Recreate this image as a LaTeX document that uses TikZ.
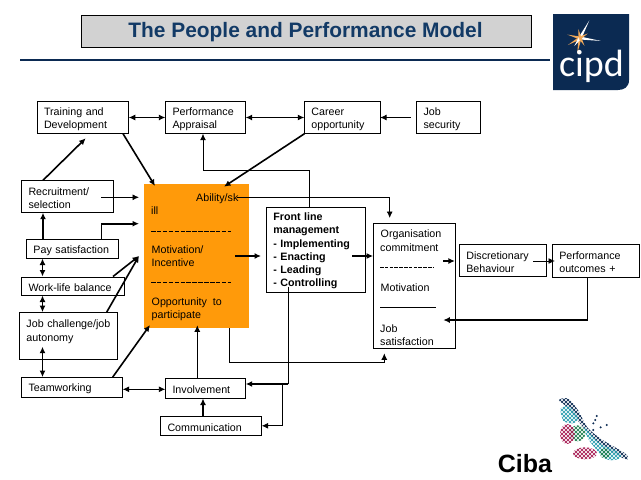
\documentclass[tikz,border=0pt]{standalone}
\usepackage{fontspec}
\setmainfont{Liberation Sans}
\newfontfamily\logofont{Carlito}
\usetikzlibrary{arrows.meta}
\definecolor{navy}{HTML}{0B2A52}
\definecolor{titleblue}{HTML}{123A66}
\definecolor{boxorange}{HTML}{FF9A0A}
\definecolor{titlegray}{HTML}{D2D2D2}
\definecolor{rayorange}{HTML}{F0A95A}
\definecolor{dotteal}{HTML}{2C9FB0}
\definecolor{dotgreen}{HTML}{1F8050}
\definecolor{dotred}{HTML}{A81E55}
\tikzset{
	box/.style={draw, align=left, inner xsep=7pt, inner ysep=0pt, font=\fontsize{10.7}{13.2}\selectfont, execute at begin node={\rule{0pt}{10.7pt}}},
	lab/.style={anchor=west, inner sep=0pt, yshift=-1pt, font=\fontsize{10.7}{13.2}\selectfont},
	thin line/.style={line width=0.9pt},
	thick line/.style={line width=1.6pt},
}
\newcommand{\dotgrid}[1]{%
	\foreach \i in {16,...,36} \foreach \j in {1,...,19} {
		\fill [#1] (\i*12,\j*12) circle (4.4);
		\fill [#1] (\i*12+6,\j*12+6) circle (4.4);
	}}
\begin{document}
\begin{tikzpicture}[x=1pt, y=-1pt, >={Latex[length=6.5pt,width=6pt]}]
	\useasboundingbox (0,0) rectangle (641,480);
	% title and rule
	\node [draw, fill=titlegray, minimum width=449.5pt, minimum height=32pt, inner sep=0pt] (title) at (306.2,31.2) {};
	\node [text=titleblue, inner sep=0pt, font=\fontsize{20.9}{24}\bfseries\selectfont] (titletext) at (305.5,32.5) {The People and Performance Model};
	\coordinate (ruleL) at (20,60);
	\coordinate (ruleR) at (550,60);
	\draw [navy, line width=2pt] (ruleL) -- (ruleR);
	% cipd logo
	\fill [navy] (553,14) -- (629,14) -- (629,80) .. controls (629,87) and (624,90) .. (618,90) -- (553,90) -- cycle;
	\foreach \ang/\len/\col in {-62/20/white, 8/21/white, 195/13/rayorange, 150/14/rayorange, 100/16/rayorange, 125/10/white, -30/9/rayorange, 60/9/rayorange, -100/9/rayorange} {
		\fill [\col] (580,38) ++(\ang+90:1.5) -- ++(\ang-90:3) -- ([shift={(\ang:\len)}]580,38) -- cycle;
	}
	\node [text=white, inner sep=0pt, font=\logofont\fontsize{38}{40}\selectfont] (cipd) at (591.5,66) {cipd};
	% boxes
	\node [fill=boxorange, minimum width=105pt, minimum height=144.5pt, inner sep=0pt] (ability) at (196,256.2) {};
	\node [box, text width=77.6pt, minimum height=32pt] (train) at (82.8,117.5) {Training and\\Development};
	\node [box, text width=66pt, minimum height=32pt] (appr) at (205.5,117.5) {Performance\\Appraisal};
	\node [box, text width=61.5pt, minimum height=32pt] (career) at (342.2,117.5) {Career\\opportunity};
	\node [box, text width=50pt, minimum height=32pt] (jobsec) at (448.5,117.5) {Job\\security};
	\node [box, text width=78pt, minimum height=32pt] (recruit) at (67.5,196.5) {Recruitment/\\selection};
	\node [box, text width=78pt, minimum height=19pt] (pay) at (72.5,248.8) {Pay satisfaction};
	\node [box, text width=89pt, minimum height=18.6pt] (work) at (73,286) {Work-life balance};
	\node [box, text width=84pt, minimum height=47pt] (challenge) at (68.5,335.8) {Job challenge/job\\autonomy\\~};
	\node [box, text width=87pt, minimum height=20pt] (team) at (72,387.3) {Teamworking};
	\node [box, text width=66pt, minimum height=20pt] (invol) at (205.5,388.3) {Involvement};
	\node [box, text width=87pt, minimum height=19pt] (comm) at (211,425.8) {Communication};
	\node [box, text width=84.4pt, minimum height=85.6pt, font=\fontsize{10.7}{13.2}\bfseries\selectfont] (front) at (315.5,249.5) {Front line\\management\\- Implementing\\- Enacting\\- Leading\\- Controlling};
	\node [draw, minimum width=81.4pt, minimum height=125pt, inner sep=0pt] (org) at (414,285.8) {};
	\node [box, text width=72.4pt, minimum height=32pt] (disc) at (502.5,260.3) {Discretionary\\Behaviour};
	\node [box, text width=72.4pt, minimum height=33pt] (perf) at (595.5,260.8) {Performance\\outcomes +};
	% text in the orange box
	\node [lab] (t1) at (196,197.5) {Ability/sk};
	\node [lab] (t2) at (151,209.5) {ill};
	\coordinate (d1a) at (151,231);
	\coordinate (d1b) at (231,231);
	\draw [dash pattern=on 4.5pt off 1.4pt] (d1a) -- (d1b);
	\node [lab] (t3) at (151.5,248.5) {Motivation/};
	\node [lab] (t4) at (151.5,262) {Incentive};
	\coordinate (d2a) at (151,282);
	\coordinate (d2b) at (231,282);
	\draw [dash pattern=on 4.5pt off 1.4pt] (d2a) -- (d2b);
	\node [lab] (t5) at (151.5,301.5) {Opportunity~~to};
	\node [lab] (t6) at (151.5,314.5) {participate};
	% text in the organisation box
	\node [lab] (o1) at (380.5,233.5) {Organisation};
	\node [lab] (o2) at (380,246.5) {commitment};
	\coordinate (d3a) at (380,267.5);
	\coordinate (d3b) at (434,267.5);
	\draw [dash pattern=on 3.6pt off 1.2pt] (d3a) -- (d3b);
	\node [lab] (o3) at (380.5,286.5) {Motivation};
	\coordinate (d4a) at (380,307.3);
	\coordinate (d4b) at (436,307.3);
	\draw [line width=0.8pt] (d4a) -- (d4b);
	\node [lab] (o4) at (380,327.5) {Job};
	\node [lab] (o5) at (380,340.5) {satisfaction};
	% free ends of the connectors
	\coordinate (jobsecL) at (410.7,117.5);
	\coordinate (abilityN) at (155,186);
	\coordinate (abilityM) at (224,186.7);
	\coordinate (trainS) at (85.7,138.3);
	\coordinate (recruitA) at (101,197.3);
	\coordinate (in1) at (139,197.3);
	\coordinate (in2) at (139,223.7);
	\coordinate (in3) at (139,256);
	\coordinate (in4) at (150,325);
	\coordinate (in5) at (197.3,325.3);
	\coordinate (abilityA) at (237,197.3);
	\coordinate (orgN) at (389.7,218);
	\coordinate (motA) at (235,256);
	\coordinate (frontW) at (261,256);
	\coordinate (frontE) at (352.3,256);
	\coordinate (orgB) at (384.3,353.3);
	\coordinate (oppB) at (229.3,328);
	\coordinate (orgE) at (443.3,261);
	\coordinate (discA) at (533.3,261);
	\coordinate (perfW) at (555,261);
	\coordinate (orgF) at (443.3,320);
	\coordinate (frontC) at (288.3,286.7);
	\coordinate (chalA) at (42.5,346.7);
	% connectors
	\draw [thin line, <->] (train.east) -- (appr.west);
	\draw [thin line, <->] (appr.east) -- (career.west);
	\draw [thin line, ->] (jobsecL) -- (career.east);
	\draw [thick line, ->] (123,0 |- train.south) -- (abilityN);
	\draw [thick line, ->] (43,0 |- recruit.north) -- (trainS);
	\draw [thick line, ->] (304.5,0 |- career.south) -- (abilityM);
	\draw [thin line, ->] (309.3,0 |- front.north) |- (203,170.7) -- (203,0 |- appr.south);
	\draw [thin line, ->] (abilityA) -| (orgN);
	\draw [thin line, ->] (recruitA) -- (in1);
	\draw [thick line, ->] (43,0 |- pay.north) -- (43,0 |- recruit.south);
	\draw [thick line, ->] (101.3,0 |- pay.north) |- (in2);
	\draw [thick line, <->] (42.5,0 |- pay.south) -- (42.5,0 |- work.north);
	\draw [thick line, ->] (113,0 |- work.north) -- (in3);
	\draw [thick line, ->] (106.7,0 |- challenge.north) -- (in3);
	\draw [thick line, <->] (42.5,0 |- work.south) -- (42.5,0 |- challenge.north);
	\draw [thick line, <->] (chalA) -- (42.5,0 |- team.north);
	\draw [thick line, ->] (112.7,0 |- team.north) -- (in4);
	\draw [thin line, <->] (team.east |- 0,389.3) -- (invol.west |- 0,389.3);
	\draw [thin line, ->] (197.3,0 |- invol.north) -- (in5);
	\draw [thick line, ->] (203,0 |- comm.north) -- (203,0 |- invol.south);
	\draw [thick line, ->] (motA) -- (frontW);
	\draw [thick line, ->] (frontE) -- (org.west |- frontE);
	\draw [thin line] (frontC) -- (288.3,384);
	\draw [thick line, ->] (288.3,384) -- (invol.east |- 0,384);
	\draw [thin line, ->] (282.7,384) |- (comm.east);
	\draw [thin line, ->] (oppB) |- (384.3,362.3) -- (orgB);
	\draw [thick line, ->] (orgE) -- (org.east |- orgE);
	\draw [thin line, ->] (discA) -- (perfW);
	\draw [thick line, ->] (587.3,0 |- perf.south) |- (orgF);
	% ciba logo
	\node [inner sep=0pt, font=\fontsize{25}{26}\bfseries\selectfont] (ciba) at (525,463.5) {Ciba};
	\begin{scope}[shift={(490,390)}, scale=0.3333]
		\begin{scope}
			\clip plot [smooth cycle] coordinates {(207,30) (235,26) (265,62) (292,112) (335,148) (405,190) (414,208) (390,200) (320,155) (270,100) (235,55)};
			\dotgrid{navy}
		\end{scope}
		\begin{scope}
			\clip plot [smooth cycle] coordinates {(212,55) (240,50) (265,85) (248,100) (220,92)};
			\dotgrid{dotteal}
		\end{scope}
		\begin{scope}
			\clip plot [smooth cycle] coordinates {(282,112) (330,160) (385,185) (390,205) (350,208) (300,155)};
			\dotgrid{dotteal}
		\end{scope}
		\begin{scope}
			\clip (262,130) circle (24);
			\dotgrid{dotgreen}
		\end{scope}
		\begin{scope}
			\clip (345,190) circle (16);
			\dotgrid{dotgreen}
		\end{scope}
		\begin{scope}
			\clip (232,132) ellipse (22 and 30);
			\dotgrid{dotred}
		\end{scope}
		\begin{scope}
			\clip (285,190) ellipse (36 and 18);
			\dotgrid{dotred}
		\end{scope}
		\foreach \px/\py in {320/78, 316/90, 310/100, 332/112, 350/105, 310/120} {
			\fill [navy] (\px,\py) circle (3.3);
		}
	\end{scope}
\end{tikzpicture}
\end{document}
